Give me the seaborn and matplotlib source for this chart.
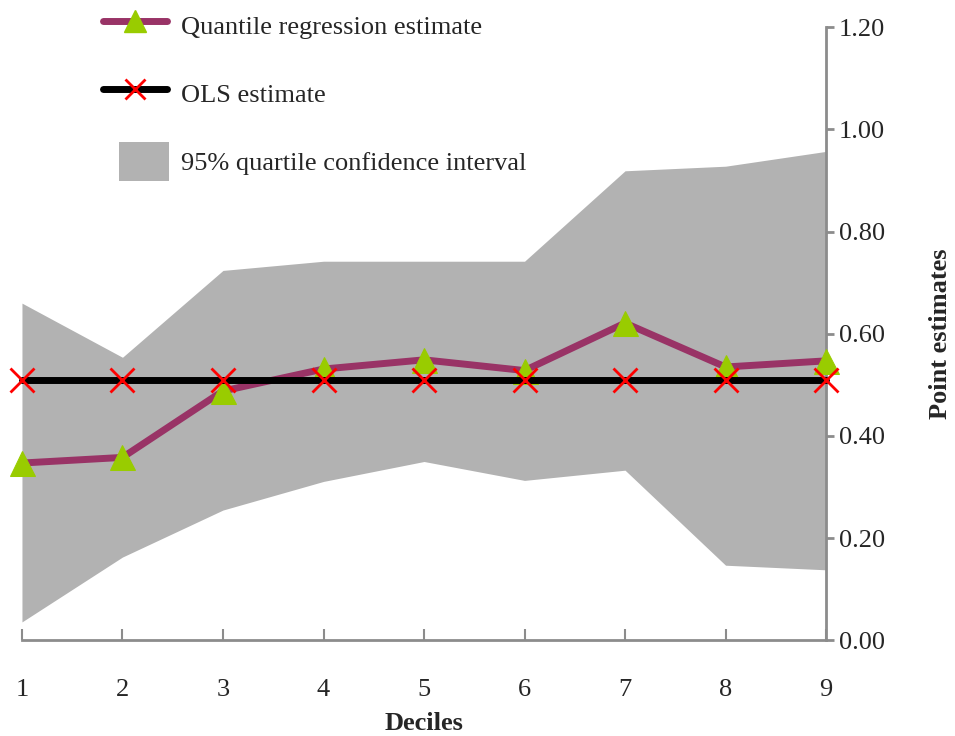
import numpy as np
import pandas as pd
import matplotlib
matplotlib.use("Agg")
import matplotlib.pyplot as plt
import seaborn as sns
from matplotlib.patches import Patch, Rectangle
from matplotlib.lines import Line2D
from matplotlib.legend_handler import HandlerPatch

deciles = [1, 2, 3, 4, 5, 6, 7, 8, 9]
quantile_est = [0.347, 0.358, 0.488, 0.531, 0.549, 0.528, 0.621, 0.535, 0.547]
ols_est = [0.51] * 9
ci_upper = [0.660, 0.554, 0.724, 0.742, 0.742, 0.742, 0.919, 0.928, 0.957]
ci_lower = [0.036, 0.163, 0.255, 0.311, 0.350, 0.313, 0.333, 0.147, 0.138]
y_ticks = [0.0, 0.2, 0.4, 0.6, 0.8, 1.0, 1.2]

sns.set_style("white")
plt.rcParams["font.family"] = ["Liberation Serif", "DejaVu Serif"]

df = pd.DataFrame({"decile": deciles, "qr": quantile_est, "ols": ols_est})

fig = plt.figure(figsize=(9.55, 7.36), dpi=100)
ax = fig.add_axes([0.023, 0.130, 0.842, 0.833])

gray = "#b2b2b2"
purple = "#993366"
green = "#99cc00"
axis_gray = "#8c8c8c"

ax.fill_between(deciles, ci_lower, ci_upper, color=gray, linewidth=0, zorder=1)
sns.lineplot(data=df, x="decile", y="qr", ax=ax, color=purple, linewidth=5,
             marker="^", markersize=18, markerfacecolor=green,
             markeredgecolor=green, zorder=3, clip_on=False)
sns.lineplot(data=df, x="decile", y="ols", ax=ax, color="black", linewidth=5,
             marker="x", markersize=17, markeredgecolor="red",
             markeredgewidth=2, zorder=4, clip_on=False)

ax.set_xlim(1, 9)
ax.set_ylim(0, 1.2)
ax.set_xticks(deciles)
ax.set_xticklabels([str(d) for d in deciles])
ax.set_yticks(y_ticks)
ax.set_yticklabels([f"{t:.2f}" for t in y_ticks])

for s in ["left", "top"]:
    ax.spines[s].set_visible(False)
for s in ["bottom", "right"]:
    ax.spines[s].set_color(axis_gray)
    ax.spines[s].set_linewidth(2)

ax.yaxis.tick_right()
ax.yaxis.set_label_position("right")
ax.tick_params(axis="y", direction="out", length=6, width=2, color=axis_gray,
               labelsize=19, pad=3, left=False, right=True)
ax.tick_params(axis="x", direction="in", length=8, width=1.5, color=axis_gray,
               labelsize=19, pad=28, bottom=True, top=False)

ax.set_xlabel("Deciles", fontsize=19, fontweight="bold", labelpad=8)
ax.set_ylabel("Point estimates", fontsize=19, fontweight="bold", labelpad=32,
              rotation=90)


# grey box in the legend is narrower and taller than the line handles
def ci_box(legend, orig_handle, xdescent, ydescent, width, height, fontsize):
    w, h = 36, 28
    cx = -xdescent + 11.5 + w / 2
    cy = -ydescent + height / 2
    return Rectangle((cx - w / 2, cy - h / 2), w, h)


handles = [
    Line2D([], [], color=purple, linewidth=5, marker="^", markersize=16,
           markerfacecolor=green, markeredgecolor=green,
           solid_capstyle="round"),
    Line2D([], [], color="black", linewidth=5, marker="x", markersize=15,
           markeredgecolor="red", markeredgewidth=2, solid_capstyle="round"),
    Patch(facecolor=gray, edgecolor="none"),
]
labels = ["Quantile regression estimate", "OLS estimate",
          "95% quartile confidence interval"]
fig.legend(handles, labels, loc="upper left", bbox_to_anchor=(0.0825, 1.021),
           frameon=False, fontsize=19, labelspacing=1.3, handlelength=2.46,
           handleheight=1.6, handletextpad=0.5,
           handler_map={Patch: HandlerPatch(patch_func=ci_box)})

fig.savefig("out.png", dpi=100)
